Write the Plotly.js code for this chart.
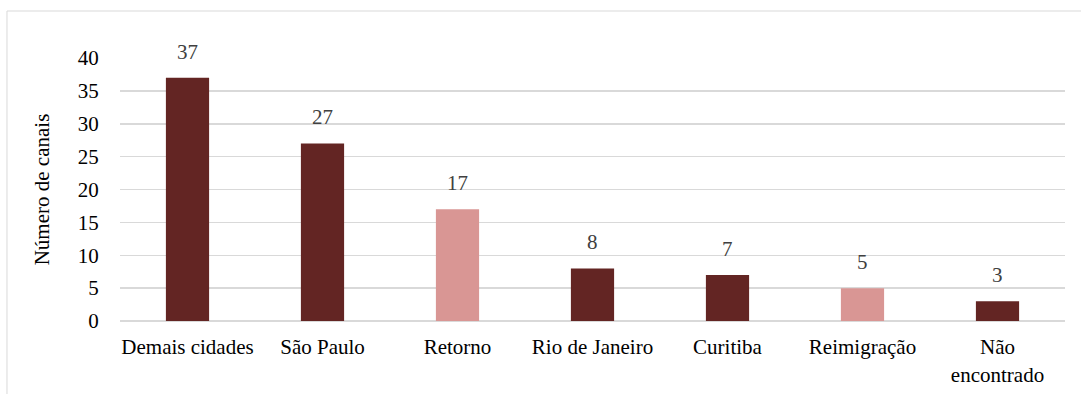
<!DOCTYPE html>
<html>
<head>
<meta charset="utf-8">
<script src="https://cdn.plot.ly/plotly-3.0.1.min.js"></script>
<style>
html,body{margin:0;padding:0;background:#fff;}
#chart{width:1081px;height:394px;}
</style>
</head>
<body>
<div id="chart"></div>
<script>
const categories = ["Demais cidades", "São Paulo", "Retorno", "Rio de Janeiro", "Curitiba", "Reimigração", "Não<br>encontrado"];
const values = [37, 27, 17, 8, 7, 5, 3];
const barColors = ["#632523", "#632523", "#D99694", "#632523", "#632523", "#D99694", "#632523"];
const yTicks = [0, 5, 10, 15, 20, 25, 30, 35, 40];

const FONT = "Liberation Serif";

const trace = {
  type: "bar",
  x: categories,
  y: values,
  marker: {color: barColors},
  width: 0.32,
  hoverinfo: "skip"
};

const annotations = categories.map((c, i) => ({
  x: c, y: values[i], xref: "x", yref: "y",
  text: String(values[i]), showarrow: false,
  yanchor: "bottom", yshift: 12,
  font: {family: FONT, size: 21, color: "#404040"}
}));

const layout = {
  width: 1081, height: 394,
  margin: {l: 120, r: 16, t: 58, b: 73},
  paper_bgcolor: "#fff", plot_bgcolor: "#fff",
  showlegend: false,
  font: {family: FONT, size: 21, color: "#000"},
  xaxis: {
    type: "category",
    tickfont: {family: FONT, size: 21, color: "#000"},
    showgrid: false, zeroline: false, showline: false,
    ticks: "outside", ticklen: 7, tickcolor: "rgba(0,0,0,0)",
    fixedrange: true
  },
  yaxis: {
    range: [0, 40],
    tickvals: yTicks,
    tickfont: {family: FONT, size: 21, color: "#000"},
    showgrid: true, gridcolor: "#D9D9D9", gridwidth: 1.5,
    zeroline: true, zerolinecolor: "#D9D9D9", zerolinewidth: 1.5,
    showline: false,
    ticks: "outside", ticklen: 16, tickcolor: "rgba(0,0,0,0)",
    title: {text: "Número de canais", font: {family: FONT, size: 21, color: "#000"}, standoff: 22},
    fixedrange: true
  },
  annotations: annotations,
  shapes: [
    {type: "line", xref: "paper", yref: "paper", x0: -0.1196, x1: 1.03, y0: 1.1787, y1: 1.1787, line: {color: "#D9D9D9", width: 1}},
    {type: "line", xref: "paper", yref: "paper", x0: -0.1196, x1: -0.1196, y0: 1.1787, y1: -0.30, line: {color: "#D9D9D9", width: 1}}
  ]
};

Plotly.newPlot("chart", [trace], layout, {displayModeBar: false, staticPlot: true});
</script>
</body>
</html>
